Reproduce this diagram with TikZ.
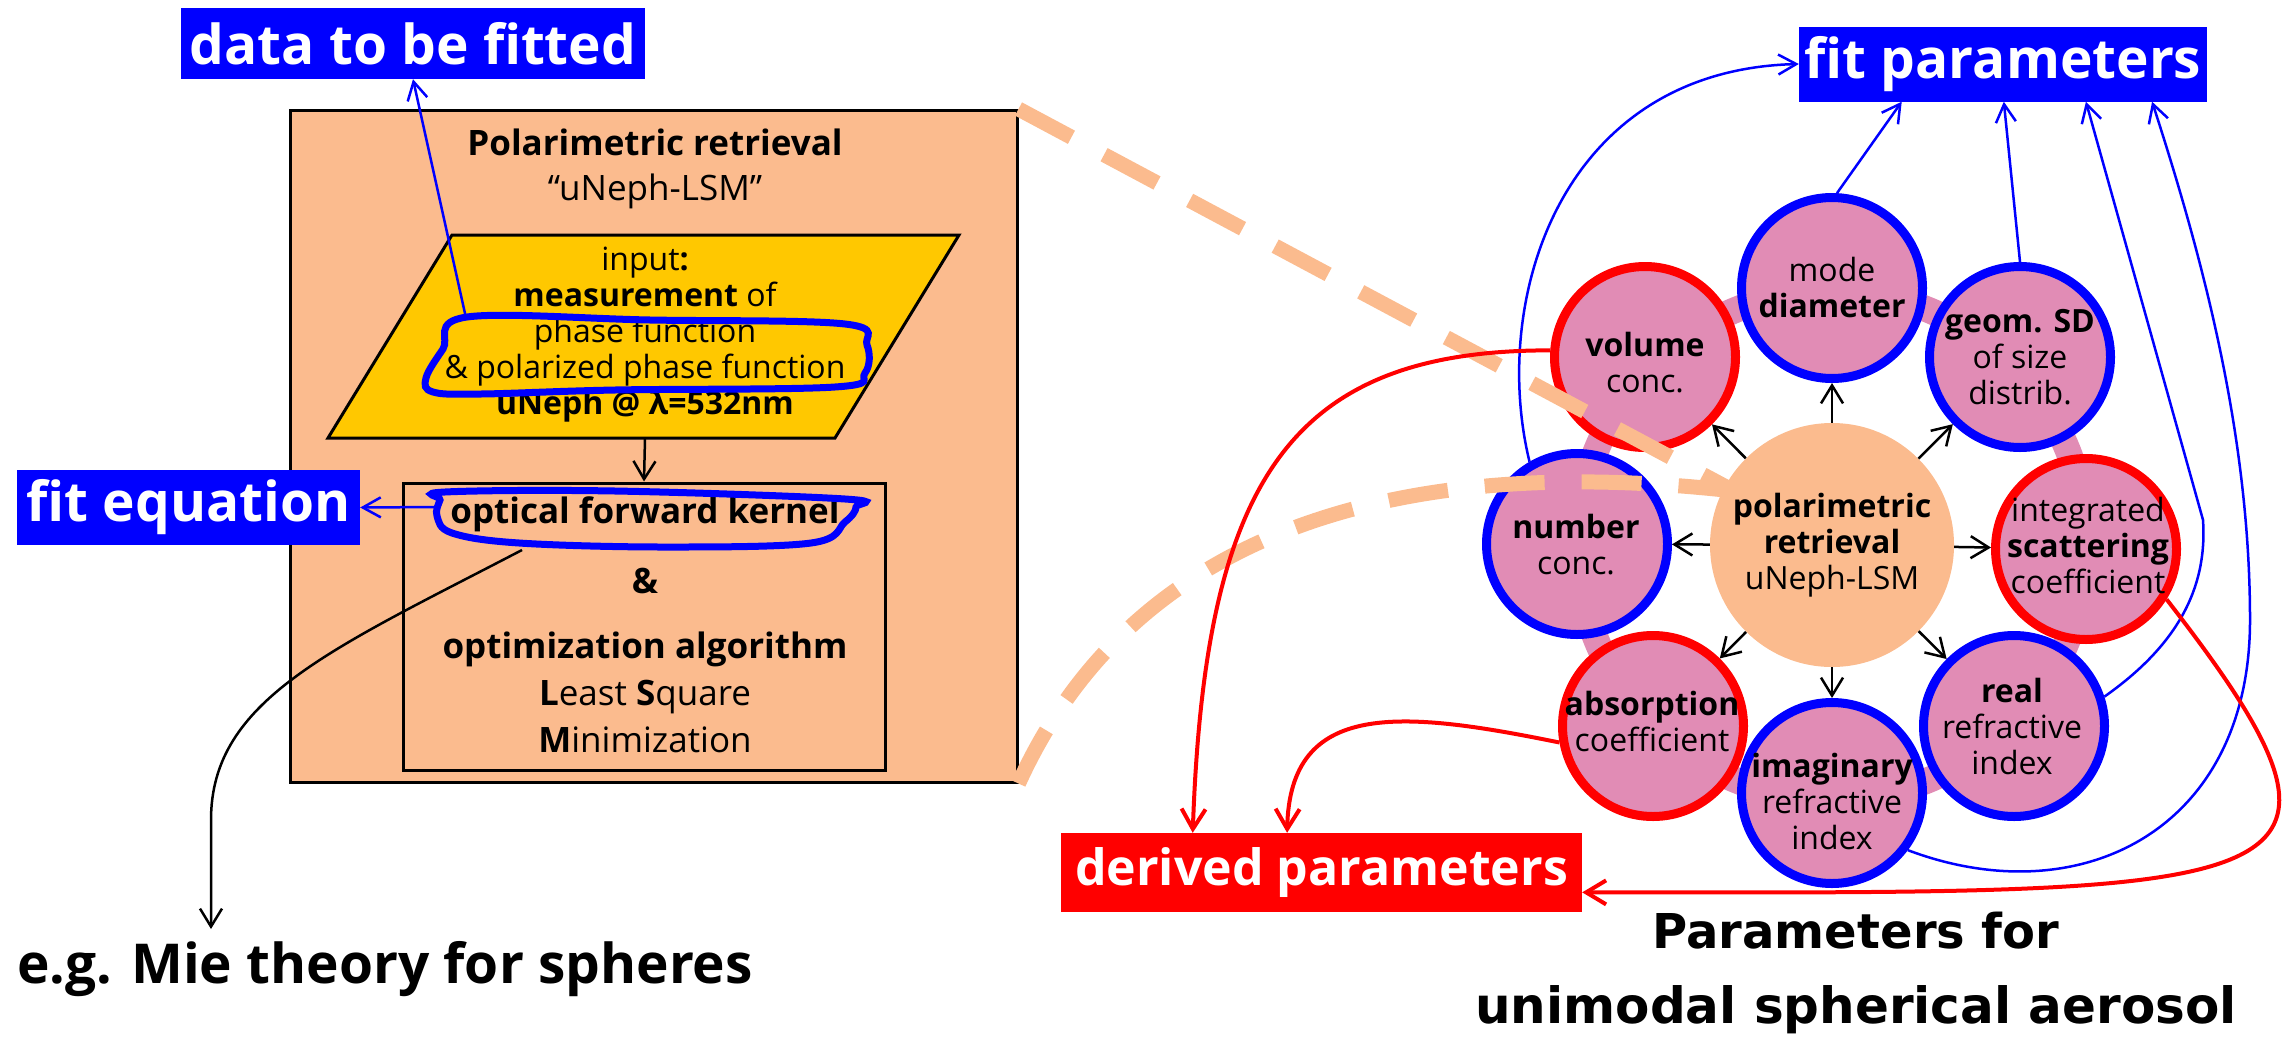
\documentclass[tikz,border=0pt]{standalone}
\usepackage{fontspec}
\setmainfont{Open Sans}
\newfontfamily\capfont{DejaVu Sans}
\usetikzlibrary{arrows.meta,calc}
\definecolor{peach}{HTML}{FBBB8E}
\definecolor{gold}{HTML}{FFC800}
\definecolor{pinkfill}{HTML}{E18CB5}
\definecolor{pblue}{HTML}{0000FF}
\definecolor{pred}{HTML}{FF0000}
\begin{document}
\begin{tikzpicture}[x=1pt,y=-1pt,
  sat/.style={circle, minimum size=181pt, inner sep=0pt, line width=9pt, fill=pinkfill},
  sattext/.style={align=center, inner sep=0pt, font=\fontsize{32}{36}\selectfont},
  tag/.style={inner sep=0pt, text=white, font=\fontsize{55}{66}\selectfont\bfseries},
  barr/.style={line width=2.5pt, -{Straight Barb[length=18pt,width=22pt]}},
  bluearr/.style={pblue, line width=2.5pt, -{Straight Barb[length=18pt,width=20pt]}},
  redarr/.style={pred, line width=4pt, -{Straight Barb[length=20pt,width=24pt]}},
  hiloop/.style={pblue, line width=7pt},
  zoomline/.style={peach, line width=15pt, dash pattern=on 60pt off 37pt},
]
\useasboundingbox (0,0) rectangle (2285,1036);

% ---------- left: retrieval box ----------
\node[draw=black, fill=peach, line width=3pt, minimum width=726.5pt, minimum height=671.5pt, inner sep=0pt] (outer) at (653.75,446.25) {};
\node[align=center, inner sep=0pt, font=\fontsize{35}{45}\selectfont] (title) at (655,169) {\textbf{Polarimetric retrieval}\\“uNeph-LSM”};
\draw[fill=gold, line width=3pt] (452,235) -- (959,235) -- (835,438) -- (328,438) -- cycle;
\node[align=center, inner sep=0pt, font=\fontsize{32}{36}\selectfont] (input) at (645,335) {input\textbf{:}\\\textbf{measurement} of\\phase function\\\& polarized phase function\\\textbf{uNeph @ λ=532nm}};
\coordinate (parabot) at (645,438);
\node[draw=black, line width=3pt, minimum width=482pt, minimum height=287pt, inner sep=0pt] (inner) at (644,626.5) {};
\draw[barr] (parabot) -- (inner.north);
\node[font=\fontsize{35}{45}\selectfont\bfseries, inner sep=0pt] (kernel) at (645,514) {optical forward kernel};
\node[font=\fontsize{35}{45}\selectfont\bfseries, inner sep=0pt] (amp) at (645,581) {\&};
\node[align=center, inner sep=0pt, font=\fontsize{35}{47}\selectfont] (optim) at (645,692) {\textbf{optimization algorithm}\\\textbf{L}east \textbf{S}quare\\\textbf{M}inimization};

% hand-drawn highlight loops
\draw[hiloop] plot[smooth cycle, tension=0.6] coordinates {(467,317) (650,320) (845,324) (867,345) (865,373) (835,387) (615,390) (481,394) (433,392) (426,378) (443,349)};
\draw[hiloop] plot[smooth cycle, tension=0.6] coordinates {(445,492) (615,491) (845,499) (856,507) (845,522) (811,543) (663,547) (519,543) (452,533) (437,516) (440,500)};
\coordinate (loopA) at (466,318);
\coordinate (loopB) at (438,507);
\coordinate (loopC) at (522,550);
\coordinate (mietip) at (211,929);

\node[tag, fill=pblue, minimum width=464pt, minimum height=71pt] (data) at (413,43.5) {data to be fitted};
\node[tag, fill=pblue, minimum width=343pt, minimum height=75pt] (fiteq) at (188.5,507.5) {fit equation};
\node[font=\fontsize{55}{66}\selectfont\bfseries, anchor=base west, inner sep=0pt] (eg) at (17,983) {e.g. Mie theory for spheres};

\draw[bluearr] (loopA) -- (data.south);
\draw[bluearr] (loopB) -- (fiteq.east);
\draw[barr] (loopC) .. controls (330,650) and (211,700) .. (211,820) -- (mietip);

% ---------- right: parameter wheel ----------
\draw[pinkfill, line width=26pt] (1832,545) circle (254pt);
\node[sat, draw=pblue] (mode) at (1832,288) {};
\node[sat, draw=pblue] (geom) at (2020,357) {};
\node[sat, draw=pred] (scat) at (2086,549) {};
\node[sat, draw=pblue] (real) at (2014,726) {};
\node[sat, draw=pblue] (imag) at (1832,793) {};
\node[sat, draw=pred] (absorp) at (1653,726) {};
\node[sat, draw=pblue] (number) at (1577,544) {};
\node[sat, draw=pred] (volume) at (1645,357) {};

% zoom lines
\draw[zoomline] (outer.north east) -- (1728,488);
\draw[zoomline] (outer.south east) .. controls (1120,560) and (1350,450) .. (1725,490);

\node[circle, fill=peach, minimum size=244pt, inner sep=0pt] (ctr) at (1832,545) {};
\node[sattext] (ctrT) at (1832,545) {\textbf{polarimetric}\\\textbf{retrieval}\\uNeph-LSM};
\node[sattext] (modeT) at (1832,287) {mode\\\textbf{diameter}};
\node[sattext] (geomT) at (2020,357) {\textbf{geom. SD}\\of size\\distrib.};
\node[sattext] (scatT) at (2088,545) {integrated\\\textbf{scattering}\\coefficient};
\node[sattext] (realT) at (2012,726) {\textbf{real}\\refractive\\index};
\node[sattext] (imagT) at (1832,801) {\textbf{imaginary}\\refractive\\index};
\node[sattext] (absorpT) at (1652,721) {\textbf{absorption}\\coefficient};
\node[sattext] (numberT) at (1576,545) {\textbf{number}\\conc.};
\node[sattext] (volumeT) at (1645,363) {\textbf{volume}\\conc.};

\foreach \s in {mode,geom,scat,real,imag,absorp,number,volume}
  \draw[barr] (ctr) -- (\s);

\node[tag, fill=pblue, minimum width=408pt, minimum height=75pt] (fitp) at (2003,64) {fit parameters};
\node[tag, fill=pred, minimum width=521pt, minimum height=79pt, font=\fontsize{50}{60}\selectfont\bfseries] (derived) at (1321.5,872.5) {derived parameters};
\node[align=center, inner sep=0pt, font=\capfont\fontsize{48}{75}\selectfont\bfseries] (caption) at (1856,973) {Parameters for\\{\fontsize{50}{75}\selectfont unimodal spherical aerosol}};

% blue connectors to fit parameters
\draw[bluearr] (number.120) .. controls (1490,300) and (1560,70) .. (fitp.west);
\draw[bluearr] (mode.87) -- ($(fitp.south west)!0.252!(fitp.south east)$);
\draw[bluearr] (geom.90) -- ($(fitp.south west)!0.502!(fitp.south east)$);
\draw[bluearr] (real.18) .. controls (2185,640) and (2207,580) .. (2203,520) -- ($(fitp.south west)!0.703!(fitp.south east)$);
\draw[bluearr] (imag.-37) .. controls (2080,915) and (2250,830) .. (2250,620) .. controls (2250,430) and (2200,250) .. ($(fitp.south west)!0.865!(fitp.south east)$);

% red connectors to derived parameters
\draw[redarr] (volume.176) .. controls (1290,350) and (1205,480) .. ($(derived.north west)!0.253!(derived.north east)$);
\draw[redarr] (absorp.190) .. controls (1400,710) and (1290,700) .. ($(derived.north west)!0.434!(derived.north east)$);
\draw[redarr] (scat.-32) .. controls (2400,900) and (2300,893) .. ($(derived.south east)!0.25!(derived.north east)$);
\end{tikzpicture}
\end{document}
